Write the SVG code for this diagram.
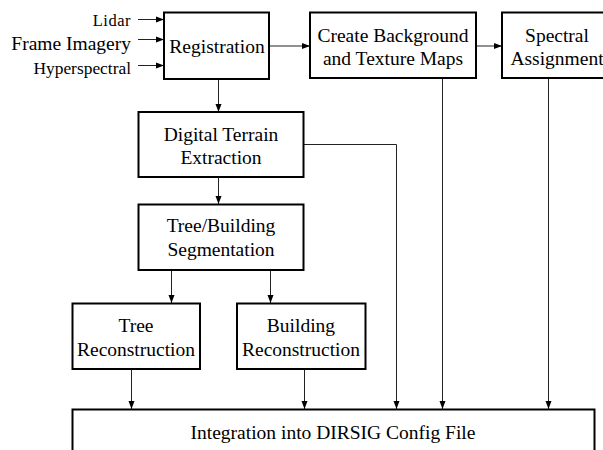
<svg xmlns="http://www.w3.org/2000/svg" width="603" height="450" viewBox="0 0 603 450">
  <style>
    .box { fill: #ffffff; stroke: #000000; stroke-width: 2; }
    .lbl { font-family: "Liberation Serif", "Times New Roman", serif; font-size: 19.5px; fill: #000000; text-anchor: middle; }
    .in { font-family: "Liberation Serif", "Times New Roman", serif; fill: #000000; text-anchor: end; }
    .wire { fill: none; stroke: #222222; stroke-width: 1; }
  </style>
  <defs>
    <marker id="arrow" markerUnits="userSpaceOnUse" markerWidth="8" markerHeight="8" viewBox="0 0 8 8" refX="8" refY="4" orient="auto">
      <path d="M0,1 L8,4 L0,7 Z" fill="#000000"/>
    </marker>
  </defs>
  <rect width="603" height="450" fill="#ffffff"/>

  <!-- input data labels -->
  <g id="inputs">
    <text class="in" x="131" y="26" font-size="16.5px" letter-spacing="0.5">Lidar</text>
    <text class="in" x="131" y="50" font-size="19.5px">Frame Imagery</text>
    <text class="in" x="131" y="74" font-size="17.4px">Hyperspectral</text>
  </g>

  <!-- connectors -->
  <g id="connectors">
    <line class="wire" x1="138" y1="19.5" x2="164" y2="19.5" marker-end="url(#arrow)"/>
    <line class="wire" x1="138" y1="39.5" x2="164" y2="39.5" marker-end="url(#arrow)"/>
    <line class="wire" x1="138" y1="65.5" x2="164" y2="65.5" marker-end="url(#arrow)"/>
    <line class="wire" x1="269" y1="46" x2="310" y2="46" marker-end="url(#arrow)"/>
    <line class="wire" x1="476" y1="46" x2="502" y2="46" marker-end="url(#arrow)"/>
    <line class="wire" x1="218.5" y1="79" x2="218.5" y2="112" marker-end="url(#arrow)"/>
    <line class="wire" x1="218.5" y1="177" x2="218.5" y2="204" marker-end="url(#arrow)"/>
    <line class="wire" x1="171.5" y1="270" x2="171.5" y2="303" marker-end="url(#arrow)"/>
    <line class="wire" x1="270.5" y1="270" x2="270.5" y2="303" marker-end="url(#arrow)"/>
    <line class="wire" x1="131.5" y1="369" x2="131.5" y2="409" marker-end="url(#arrow)"/>
    <line class="wire" x1="304.5" y1="369" x2="304.5" y2="409" marker-end="url(#arrow)"/>
    <polyline class="wire" points="303,144.5 396.5,144.5 396.5,409" marker-end="url(#arrow)"/>
    <line class="wire" x1="442.5" y1="78" x2="442.5" y2="409" marker-end="url(#arrow)"/>
    <line class="wire" x1="548.5" y1="78" x2="548.5" y2="409" marker-end="url(#arrow)"/>
  </g>

  <g id="registration">
    <rect class="box" x="164" y="12.5" width="105" height="66.5"/>
    <text class="lbl" x="217" y="53">Registration</text>
  </g>

  <g id="background-texture">
    <rect class="box" x="310" y="12.5" width="166" height="65.5"/>
    <text class="lbl" x="393" y="41.5">Create Background</text>
    <text class="lbl" x="393" y="65">and Texture Maps</text>
  </g>

  <g id="spectral">
    <rect class="box" x="502" y="12.5" width="112" height="65.5"/>
    <text class="lbl" x="557" y="41.5">Spectral</text>
    <text class="lbl" x="557" y="65">Assignment</text>
  </g>

  <g id="terrain">
    <rect class="box" x="138.5" y="112" width="165" height="65"/>
    <text class="lbl" x="221" y="140.5">Digital Terrain</text>
    <text class="lbl" x="221" y="163.5">Extraction</text>
  </g>

  <g id="segmentation">
    <rect class="box" x="138.5" y="204.5" width="165" height="65.5"/>
    <text class="lbl" x="221" y="232">Tree/Building</text>
    <text class="lbl" x="221" y="255.5">Segmentation</text>
  </g>

  <g id="tree">
    <rect class="box" x="72.5" y="303.5" width="127.5" height="65.5"/>
    <text class="lbl" x="136" y="332">Tree</text>
    <text class="lbl" x="136" y="355.5">Reconstruction</text>
  </g>

  <g id="building">
    <rect class="box" x="237" y="303.5" width="128.5" height="65.5"/>
    <text class="lbl" x="301" y="332">Building</text>
    <text class="lbl" x="301" y="355.5">Reconstruction</text>
  </g>

  <g id="integration">
    <rect class="box" x="72.5" y="409.5" width="522" height="50"/>
    <text class="lbl" x="333" y="438.5">Integration into DIRSIG Config File</text>
  </g>
</svg>
